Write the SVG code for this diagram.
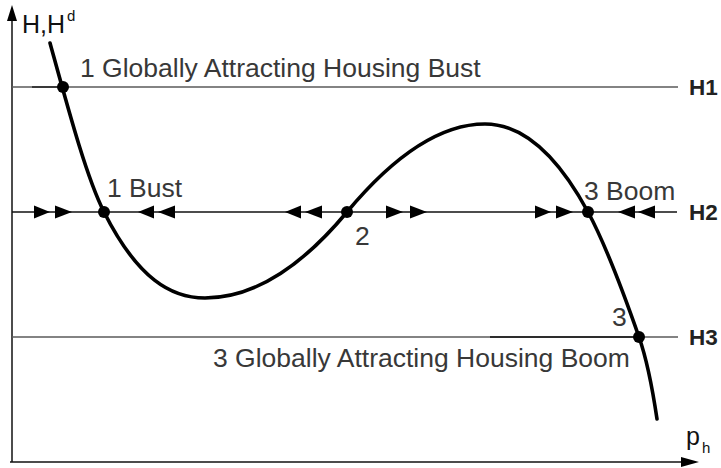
<svg xmlns="http://www.w3.org/2000/svg" width="721" height="468" viewBox="0 0 721 468">
<style>
.lbl{font-family:"Liberation Sans",Arial,sans-serif;font-size:26.5px;fill:#383838}
.hl{font-family:"Liberation Sans",Arial,sans-serif;font-size:22.5px;font-weight:bold;fill:#222}
.ax{font-family:"Liberation Sans",Arial,sans-serif;fill:#111}
.hline{stroke:#5a5a5a;stroke-width:1.3;fill:none}
.dark{stroke:#111;stroke-width:1.3;fill:none}
.curve{stroke:#000;stroke-width:3.6;fill:none;stroke-linecap:round}
.dot{fill:#000}
.tri{fill:#000}
</style>
<rect width="721" height="468" fill="#fff"/>
<g id="axes">
<line x1="12" y1="462" x2="12" y2="18" stroke="#111" stroke-width="1.5"/>
<polygon points="12,5 7,21 17,21" fill="#000"/>
<line x1="10" y1="462" x2="684" y2="462" stroke="#111" stroke-width="1.5"/>
<polygon points="699,462 681,457 681,467" fill="#000"/>
<text class="ax" x="22" y="33" font-size="25" textLength="43" lengthAdjust="spacingAndGlyphs">H,H</text>
<text class="ax" x="67" y="21" font-size="15">d</text>
<text class="ax" x="686" y="445" font-size="25">p</text>
<text class="ax" x="702" y="453" font-size="15">h</text>
</g>
<g id="connectors">
<line class="hline" x1="12" y1="87" x2="678" y2="87"/>
<line class="dark" x1="32" y1="87" x2="63" y2="87"/>
<line class="dark" x1="12" y1="212" x2="677" y2="212"/>
<line class="hline" x1="12" y1="337" x2="678" y2="337"/>
<line class="dark" x1="490" y1="337" x2="639" y2="337"/>
<path class="curve" d="M50,43 C68.2,109 86.3,177 104,212 C137.7,279 171.3,298 205,298 C252.3,298 299.7,268.8 347,212 C393,156.8 439,124 485,124 C519.3,124 553.7,148.8 588,212 C605,243.3 622,288.4 639,337 C645.3,355 651.7,383.3 657,419"/>
</g>
<g id="flow-arrows">
<polygon class="tri" points="50,212 34,205.5 34,218.5"/>
<polygon class="tri" points="72,212 55,205.5 55,218.5"/>
<polygon class="tri" points="138,212 154,205.5 154,218.5"/>
<polygon class="tri" points="158,212 175,205.5 175,218.5"/>
<polygon class="tri" points="285,212 301,205.5 301,218.5"/>
<polygon class="tri" points="305,212 322,205.5 322,218.5"/>
<polygon class="tri" points="403,212 386,205.5 386,218.5"/>
<polygon class="tri" points="427,212 410,205.5 410,218.5"/>
<polygon class="tri" points="551,212 535,205.5 535,218.5"/>
<polygon class="tri" points="573,212 556,205.5 556,218.5"/>
<polygon class="tri" points="618,212 635,205.5 635,218.5"/>
<polygon class="tri" points="638,212 655,205.5 655,218.5"/>
</g>
<g id="node-H1">
<text class="hl" x="689" y="95">H1</text>
</g>
<g id="node-H2">
<text class="hl" x="689" y="220">H2</text>
</g>
<g id="node-H3">
<text class="hl" x="689" y="345">H3</text>
</g>
<g id="node-eq1-global">
<circle class="dot" cx="63" cy="87" r="6"/>
<text class="lbl" x="80" y="77">1 Globally Attracting Housing Bust</text>
</g>
<g id="node-eq1-bust">
<circle class="dot" cx="104" cy="212" r="6"/>
<text class="lbl" x="107" y="197">1 Bust</text>
</g>
<g id="node-eq2">
<circle class="dot" cx="347" cy="212" r="6"/>
<text class="lbl" x="355" y="245" font-size="24">2</text>
</g>
<g id="node-eq3-boom">
<circle class="dot" cx="588" cy="212" r="6"/>
<text class="lbl" x="584" y="200">3 Boom</text>
</g>
<g id="node-eq3-global">
<circle class="dot" cx="639" cy="337" r="6"/>
<text class="lbl" x="612" y="326" font-size="25">3</text>
<text class="lbl" x="213" y="367">3 Globally Attracting Housing Boom</text>
</g>
</svg>
